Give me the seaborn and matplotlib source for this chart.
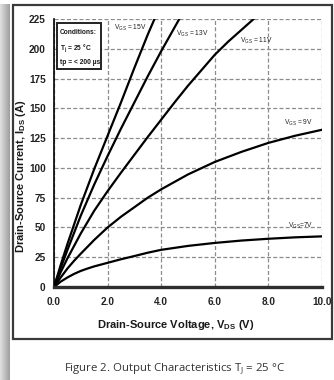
import numpy as np
import pandas as pd
import matplotlib
matplotlib.use("Agg")
import matplotlib.pyplot as plt
from matplotlib.patches import Rectangle
import seaborn as sns

# Output characteristics: drain current vs drain-source voltage per gate voltage
vds_15 = [0, 0.25, 0.5, 1, 1.5, 2, 2.5, 3, 3.5, 4]
ids_15 = [0, 18.5, 36, 69, 99, 127, 155, 184, 212, 238]

vds_13 = [0, 0.25, 0.5, 1, 1.5, 2, 2.5, 3, 3.5, 4, 4.5, 5]
ids_13 = [0, 16, 31, 60, 86, 110, 133, 155, 177, 198, 218, 238]

vds_11 = [0, 0.25, 0.5, 1, 1.5, 2, 2.5, 3, 3.5, 4, 4.5, 5, 5.5, 6, 6.5, 7, 7.5, 8]
ids_11 = [0, 12.5, 24, 45, 64, 80.5, 96, 111, 126, 140.5, 155, 169, 182, 195, 206, 216, 226, 235]

vds_9 = [0, 0.25, 0.5, 0.75, 1, 1.5, 2, 2.5, 3, 3.5, 4, 5, 6, 7, 8, 9, 10]
ids_9 = [0, 8, 15.5, 22, 28, 39.5, 50, 59, 67, 75, 82, 94.5, 105, 113.5, 121, 127, 132]

vds_7 = [0, 0.25, 0.5, 0.75, 1, 1.25, 1.5, 2, 2.5, 3, 3.5, 4, 5, 6, 7, 8, 9, 10]
ids_7 = [0, 4.5, 8, 11, 13.5, 15.5, 17.3, 20.3, 23.3, 26, 28.8, 31.2, 34.5, 37, 39, 40.5, 41.7, 42.5]

gate_voltages = ["15V", "13V", "11V", "9V", "7V"]
x_ticks = [0, 2, 4, 6, 8, 10]
x_tick_labels = ["0.0", "2.0", "4.0", "6.0", "8.0", "10.0"]
y_ticks = [0, 25, 50, 75, 100, 125, 150, 175, 200, 225]

series = {
    "15V": (vds_15, ids_15),
    "13V": (vds_13, ids_13),
    "11V": (vds_11, ids_11),
    "9V": (vds_9, ids_9),
    "7V": (vds_7, ids_7),
}
df = pd.concat(
    [pd.DataFrame({"vds": v, "ids": i, "vgs": g}) for g, (v, i) in series.items()],
    ignore_index=True,
)

sns.set_style("white")
narrow = ["Liberation Sans Narrow", "Liberation Sans", "DejaVu Sans"]
plt.rcParams["font.family"] = narrow
plt.rcParams["mathtext.default"] = "regular"

W, H = 334, 380
fig = plt.figure(figsize=(W / 100, H / 100), dpi=100)
fig.patch.set_facecolor("white")

# page shadow on the left edge and the outer frame
bg = fig.add_axes([0, 0, 1, 1], zorder=-5)
bg.set_xlim(0, W)
bg.set_ylim(H, 0)
bg.axis("off")
grad = np.linspace(0.88, 0.62, 40)[None, :]
bg.imshow(grad, cmap="gray", vmin=0, vmax=1, extent=[0, 10, H, 4], aspect="auto")
bg.add_patch(Rectangle((12.5, 5), 319, 334, fill=False, lw=1.6, ec="#3a3a3a"))

ax = fig.add_axes([54 / W, (H - 287) / H, 268 / W, 268 / H])
sns.lineplot(
    data=df, x="vds", y="ids", hue="vgs", hue_order=gate_voltages,
    palette=["black"] * 5, estimator=None, sort=False, legend=False,
    linewidth=1.6, ax=ax,
)

ax.set_xlim(0, 10)
ax.set_ylim(0, 225)
ax.set_xticks(x_ticks)
ax.set_xticklabels(x_tick_labels)
ax.set_yticks(y_ticks)
ax.grid(True, ls=(0, (3.2, 1.8)), color="#8c8c8c", lw=0.9)
for s in ["top", "right"]:
    ax.spines[s].set_visible(False)
ax.spines["left"].set_color("black")
ax.spines["left"].set_linewidth(1.2)
ax.spines["bottom"].set_color("#2e2e2e")
ax.spines["bottom"].set_linewidth(2.4)
ax.tick_params(axis="y", direction="out", length=3, width=1, color="black",
               pad=3, labelsize=7.2, labelcolor="#222222")
ax.tick_params(axis="x", direction="inout", length=6, width=1, color="black",
               pad=4, labelsize=7.2, labelcolor="#222222")
for lab in ax.get_xticklabels() + ax.get_yticklabels():
    lab.set_fontweight("bold")
ax.set_xlabel("")
ax.set_ylabel("")

# overlay in pixel coordinates for annotations
ov = fig.add_axes([0, 0, 1, 1], zorder=10)
ov.set_xlim(0, W)
ov.set_ylim(H, 0)
ov.axis("off")
ov.patch.set_alpha(0)

# axis titles
ov.text(176, 325, "Drain-Source Voltage, V$_{DS}$ (V)",
        ha="center", va="center", fontsize=8, fontweight="bold", color="#1a1a1a")
ov.text(21, 176, "Drain-Source Current, I$_{DS}$ (A)",
        ha="center", va="center", rotation=90, fontsize=8, fontweight="bold",
        color="#1a1a1a")

# test conditions box
ov.add_patch(Rectangle((57, 23), 44, 46, facecolor="white", lw=1.4, ec="#222222"))
for ty, t in [(32, "Conditions:"), (48, "T$_j$ = 25 °C"), (62, "tp = < 200 µs")]:
    ov.text(59.5, ty, t, fontsize=4.8, fontweight="bold", va="center", ha="left",
            color="#1a1a1a")

# curve labels
curve_labels = [
    (130, 28, "V$_{GS}$ = 15V"),
    (192, 34, "V$_{GS}$ = 13V"),
    (256, 41, "V$_{GS}$ = 11V"),
    (299, 123, "V$_{GS}$ = 9V"),
    (300, 226, "V$_{GS}$=7V"),
]
for x, y, t in curve_labels:
    ov.text(x, y, t, fontsize=4.8, ha="center", va="center", color="#222222")

# caption
ov.text(175, 369, "Figure 2. Output Characteristics T$_J$ = 25 °C",
        ha="center", va="center", fontsize=8.2, color="#333333",
        family=["Open Sans", "DejaVu Sans"])

fig.savefig("out.png", dpi=100)
